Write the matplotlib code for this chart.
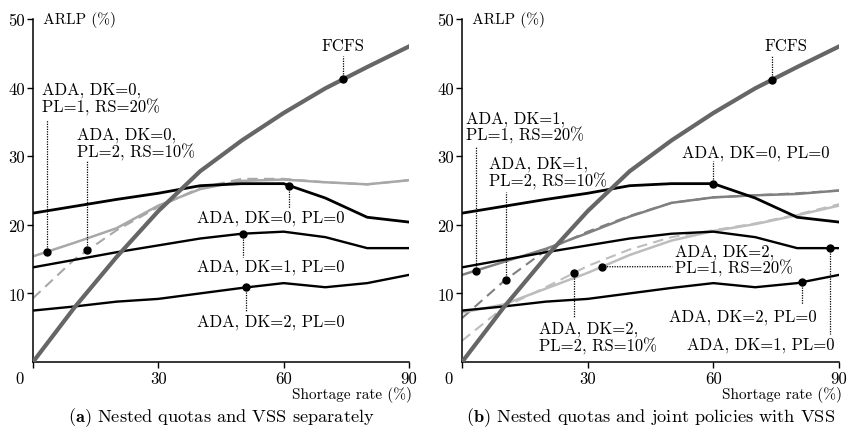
import numpy as np
import matplotlib
matplotlib.use("Agg")
import matplotlib.pyplot as plt
from matplotlib.transforms import ScaledTranslation

plt.rcParams['font.family'] = ['cmr10', 'DejaVu Serif']
plt.rcParams['mathtext.fontset'] = 'cm'
plt.rcParams['axes.formatter.use_mathtext'] = True

# shortage rate (%)
rate = [0, 10, 20, 30, 40, 50, 60, 70, 80, 90]

# ARLP (%) per policy
fcfs = [0, 8.0, 15.3, 22.0, 27.8, 32.3, 36.3, 39.9, 43.0, 46.0]
dk0_pl0 = [21.7, 22.7, 23.7, 24.6, 25.7, 26.0, 26.0, 23.9, 21.1, 20.4]
dk1_pl0 = [13.8, 14.9, 16.0, 17.0, 18.0, 18.7, 19.0, 18.2, 16.6, 16.6]
dk2_pl0 = [7.5, 8.1, 8.8, 9.2, 10.0, 10.8, 11.5, 10.9, 11.5, 12.7]

# panel (a): VSS on its own
dk0_pl1_rs20 = [15.4, 17.4, 19.5, 22.8, 25.2, 26.4, 26.6, 26.2, 25.9, 26.5]
dk0_pl2_rs10 = [9.3, 15.0, 19.2, 22.6, 25.4, 26.7, 26.7, 26.2, 25.9, 26.5]

# panel (b): joint policies
dk1_pl1_rs20 = [12.7, 14.6, 16.5, 18.8, 21.2, 23.2, 24.0, 24.3, 24.5, 25.0]
dk1_pl2_rs10 = [6.4, 11.8, 16.3, 19.0, 21.3, 23.2, 24.0, 24.3, 24.6, 25.0]
dk2_pl1_rs20 = [7.2, 8.4, 10.7, 13.0, 15.6, 17.7, 19.1, 20.1, 21.4, 22.8]
dk2_pl2_rs10 = [3.1, 8.0, 10.9, 14.0, 16.4, 18.2, 19.2, 20.2, 21.5, 23.0]

xticks = [0, 30, 60, 90]
xticklabels = ['0', '30', '60', '90']
yticks = [10, 20, 30, 40, 50]
yticklabels = ['10', '20', '30', '40', '50']

captions = [r'$\mathbf{(a)}$ Nested quotas and VSS separately',
            r'$\mathbf{(b)}$ Nested quotas and joint policies with VSS']

FS = 12
DASH = (0, (5, 3))

fig = plt.figure(figsize=(8.52, 4.35), dpi=100)
ax_a = fig.add_axes([0.0387, 0.1655, 0.4413, 0.7885])
ax_b = fig.add_axes([0.5423, 0.1655, 0.4425, 0.7885])


def setup(ax):
    ax.set_xlim(0, 90)
    ax.set_ylim(0, 50)
    for s in ['top', 'right']:
        ax.spines[s].set_visible(False)
    for s in ['left', 'bottom']:
        ax.spines[s].set_linewidth(1.1)
    ax.set_xticks(xticks)
    ax.set_xticklabels(xticklabels)
    ax.set_yticks(yticks)
    ax.set_yticklabels(yticklabels)
    ax.tick_params(direction='out', length=4, width=1, pad=2, labelsize=FS)
    # origin label sits left of the corner
    lbl = ax.get_xticklabels()[0]
    lbl.set_transform(lbl.get_transform() + ScaledTranslation(-10 / 72, 0, fig.dpi_scale_trans))
    ax.text(0, 50, '  ARLP (%)', fontsize=11, va='center', ha='left')
    ax.text(90.8, -4.7, 'Shortage rate (%)', fontsize=11, va='center', ha='right')


def callout(ax, data, x0, text, tx, ty, ex, ey, ha='left'):
    y0 = np.interp(x0, rate, data)
    ax.plot([x0], [y0], 'o', color='black', ms=5, zorder=6)
    ax.plot([x0, ex], [y0, ey], color='black', lw=0.9, ls=(0, (1, 1)), zorder=5)
    ax.text(tx, ty, text, fontsize=FS, ha=ha, va='center', linespacing=1.05)


def black_lines(ax):
    ax.plot(rate, dk0_pl0, color='black', lw=2.0, zorder=3)
    ax.plot(rate, dk1_pl0, color='black', lw=1.7, zorder=3)
    ax.plot(rate, dk2_pl0, color='black', lw=1.7, zorder=3)


for ax in (ax_a, ax_b):
    setup(ax)

# (a)
ax_a.plot(rate, dk0_pl1_rs20, color='#a8a8a8', lw=1.8, zorder=2)
ax_a.plot(rate, dk0_pl2_rs10, color='#a8a8a8', lw=1.5, ls=DASH, zorder=2)
black_lines(ax_a)
ax_a.plot(rate, fcfs, color='#666666', lw=3.0, zorder=4)

callout(ax_a, fcfs, 74.2, 'FCFS', 74.2, 46.2, 74.2, 44.6, ha='center')
callout(ax_a, dk0_pl1_rs20, 3.4, 'ADA, DK=0,\nPL=1, RS=20%', 2.1, 38.4, 3.4, 35.3)
callout(ax_a, dk0_pl2_rs10, 13.0, 'ADA, DK=0,\nPL=2, RS=10%', 10.5, 31.9, 13.0, 29.3)
callout(ax_a, dk0_pl0, 61.4, 'ADA, DK=0, PL=0', 39.3, 21.1, 61.4, 22.4)
callout(ax_a, dk1_pl0, 50.3, 'ADA, DK=1, PL=0', 39.3, 14.0, 50.3, 15.3)
callout(ax_a, dk2_pl0, 51.1, 'ADA, DK=2, PL=0', 39.3, 6.0, 51.1, 7.3)

# (b)
ax_b.plot(rate, dk1_pl1_rs20, color='#808080', lw=1.8, zorder=2)
ax_b.plot(rate, dk1_pl2_rs10, color='#808080', lw=1.5, ls=DASH, zorder=2)
ax_b.plot(rate, dk2_pl1_rs20, color='#bdbdbd', lw=1.8, zorder=2)
ax_b.plot(rate, dk2_pl2_rs10, color='#bdbdbd', lw=1.5, ls=DASH, zorder=2)
black_lines(ax_b)
ax_b.plot(rate, fcfs, color='#666666', lw=3.0, zorder=4)

callout(ax_b, fcfs, 74.1, 'FCFS', 77.2, 46.2, 74.1, 44.6, ha='center')
callout(ax_b, dk1_pl1_rs20, 3.3, 'ADA, DK=1,\nPL=1, RS=20%', 1.0, 34.3, 3.3, 31.3)
callout(ax_b, dk1_pl2_rs10, 10.4, 'ADA, DK=1,\nPL=2, RS=10%', 6.5, 27.6, 10.4, 24.8)
callout(ax_b, dk0_pl0, 60.0, 'ADA, DK=0, PL=0', 52.6, 30.6, 60.0, 29.3)
callout(ax_b, dk2_pl1_rs20, 33.4, 'ADA, DK=2,\nPL=1, RS=20%', 50.9, 14.9, 50.2, 13.9)
callout(ax_b, dk2_pl2_rs10, 26.8, 'ADA, DK=2,\nPL=2, RS=10%', 18.4, 3.6, 26.8, 6.6)
callout(ax_b, dk2_pl0, 81.2, 'ADA, DK=2, PL=0', 49.5, 6.7, 81.2, 8.5)
callout(ax_b, dk1_pl0, 87.8, 'ADA, DK=1, PL=0', 53.8, 2.6, 87.8, 4.1)

for ax, cap in zip((ax_a, ax_b), captions):
    ax.text(0.5, -0.158, cap, transform=ax.transAxes, fontsize=13.2, ha='center', va='center')

fig.savefig('out.png', dpi=100)
